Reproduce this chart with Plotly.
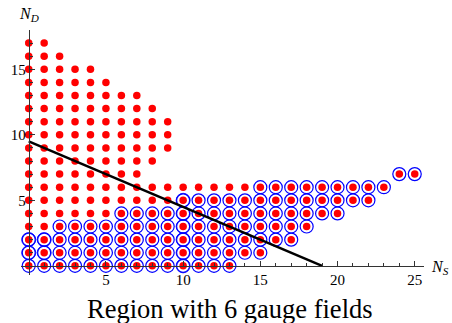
import plotly.graph_objects as go

# Rows of points: (N_D, first N_S, last N_S)
red_rows = [
    (0, 0, 13), (1, 0, 15), (2, 0, 17), (3, 0, 18), (4, 0, 20), (5, 0, 22),
    (6, 0, 23), (7, 0, 7), (7, 24, 25), (8, 0, 8), (9, 0, 9), (10, 0, 9),
    (11, 0, 9), (12, 0, 8), (13, 0, 7), (14, 0, 5), (15, 0, 4), (16, 0, 2),
    (17, 0, 1),
]
circle_rows = [
    (0, 0, 13), (1, 0, 15), (2, 0, 17), (3, 2, 18), (4, 6, 20), (5, 10, 22),
    (6, 15, 23), (7, 24, 25),
]
double_x = [0, 1, 0, 1, 10, 10, 10, 10, 10, 10]
double_y = [1, 1, 2, 2, 0, 1, 2, 3, 4, 5]

line_x = [0, 19]
line_y = [9.5, 0]

x_ticks = [5, 10, 15, 20, 25]
y_ticks = [5, 10, 15]
x_minor = list(range(1, 26))
y_minor = list(range(1, 18))


def expand(rows):
    xs, ys = [], []
    for y, a, b in rows:
        for x in range(a, b + 1):
            xs.append(x)
            ys.append(y)
    return xs, ys


rx, ry = expand(red_rows)
cx, cy = expand(circle_rows)

fig = go.Figure()
fig.add_trace(go.Scatter(x=rx, y=ry, mode="markers",
                         marker=dict(size=7.5, color="#ff0000"),
                         cliponaxis=False, hoverinfo="skip"))
fig.add_trace(go.Scatter(x=cx, y=cy, mode="markers",
                         marker=dict(size=13, symbol="circle-open", color="#0000ff",
                                     line=dict(width=1.2, color="#0000ff")),
                         cliponaxis=False, hoverinfo="skip"))
fig.add_trace(go.Scatter(x=double_x, y=double_y, mode="markers",
                         marker=dict(size=14, symbol="circle-open", color="#0000ff",
                                     line=dict(width=0.9, color="#0000ff")),
                         cliponaxis=False, hoverinfo="skip"))
fig.add_trace(go.Scatter(x=line_x, y=line_y, mode="lines",
                         line=dict(color="black", width=2.5),
                         cliponaxis=False, hoverinfo="skip"))

font = "Liberation Serif"
axis_color = "#333333"

fig.update_layout(
    width=452, height=323,
    margin=dict(l=21, r=28, t=30, b=48),
    paper_bgcolor="white", plot_bgcolor="white",
    showlegend=False,
    font=dict(family=font, size=15, color="black"),
    xaxis=dict(range=[-0.5, 25.6], anchor="free", position=0.7 / 18.7,
               showline=True, linecolor=axis_color, linewidth=1,
               showgrid=False, zeroline=False,
               tickmode="array", tickvals=x_ticks, ticks="inside", ticklen=5,
               tickcolor=axis_color, tickfont=dict(family=font, size=15, color="black"),
               minor=dict(tickmode="array", tickvals=x_minor, ticks="inside",
                          ticklen=3, tickcolor=axis_color, showgrid=False)),
    yaxis=dict(range=[-0.7, 18.0], anchor="free", position=0.5 / 26.1,
               showline=True, linecolor=axis_color, linewidth=1,
               showgrid=False, zeroline=False,
               tickmode="array", tickvals=y_ticks, ticks="inside", ticklen=5,
               tickcolor=axis_color, tickfont=dict(family=font, size=15, color="black"),
               minor=dict(tickmode="array", tickvals=y_minor, ticks="inside",
                          ticklen=3, tickcolor=axis_color, showgrid=False)),
    annotations=[
        dict(text="<i>N</i><sub><i>S</i></sub>", xref="paper", yref="paper",
             x=(440 - 21) / 403, y=(275 - 267) / 245, showarrow=False,
             xanchor="center", yanchor="middle",
             font=dict(family=font, size=16, color="black")),
        dict(text="<i>N</i><sub><i>D</i></sub>", xref="paper", yref="paper",
             x=(29 - 21) / 403, y=(275 - 15) / 245, showarrow=False,
             xanchor="center", yanchor="middle",
             font=dict(family=font, size=16, color="black")),
        dict(text="Region with 6 gauge fields", xref="paper", yref="paper",
             x=(230 - 21) / 403, y=(275 - 309) / 245, showarrow=False,
             xanchor="center", yanchor="middle",
             font=dict(family=font, size=26.5, color="black")),
    ],
)

fig.write_html("out.html")
